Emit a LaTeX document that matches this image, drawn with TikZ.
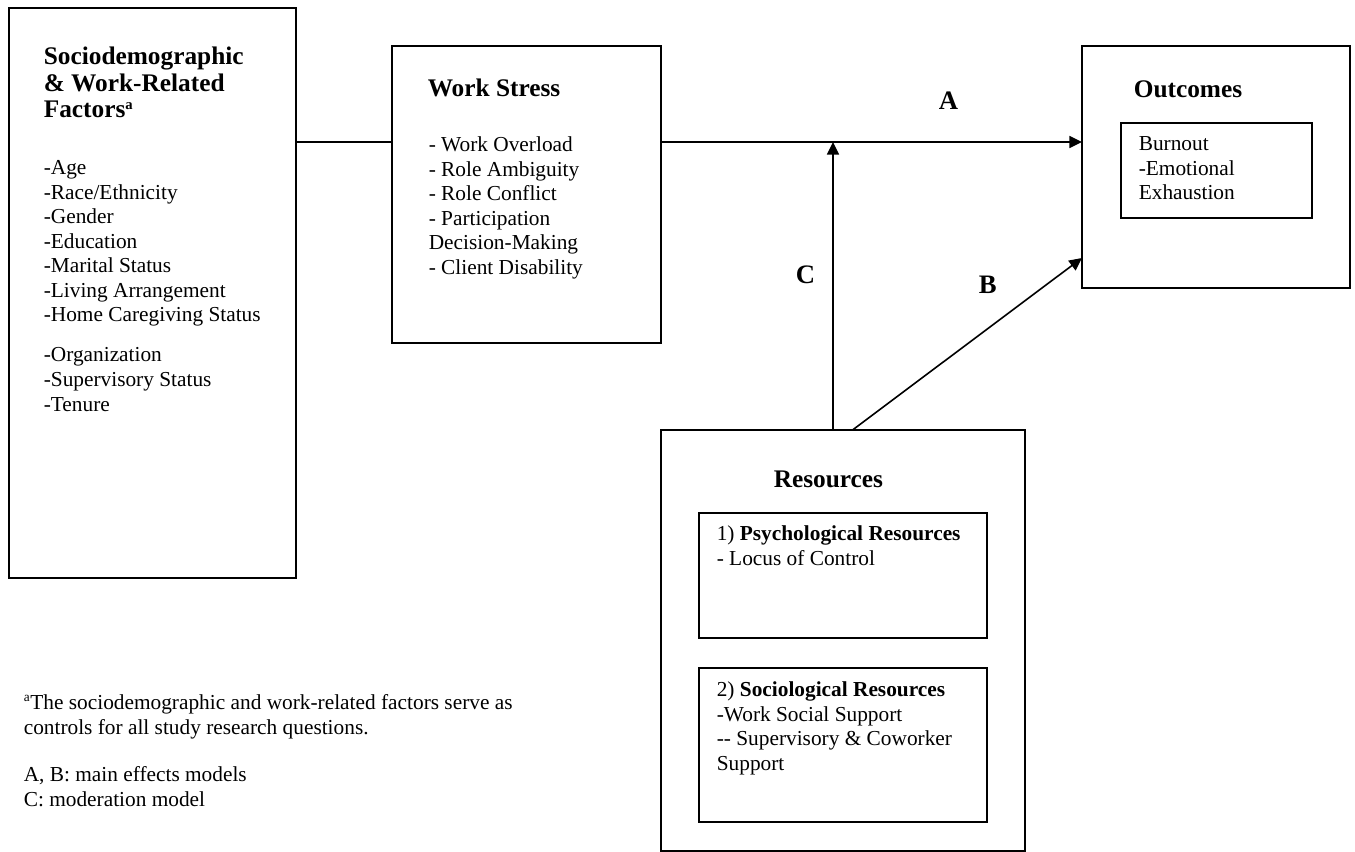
\documentclass[tikz,border=0pt]{standalone}
\usepackage{fontspec}
\setmainfont{Liberation Serif}
\usetikzlibrary{arrows.meta,positioning,calc}

\begin{document}
\begin{tikzpicture}[x=0.75pt, y=-0.75pt, line width=1.2pt,
  >={Triangle[length=9.5pt,width=9pt]},
  box/.style={draw, inner sep=0pt, outer sep=0pt},
  txt/.style={anchor=base west, align=left, inner sep=0pt, font=\fontsize{16}{18.4}\selectfont},
  ttl/.style={anchor=base west, align=left, inner sep=0pt, font=\fontsize{19}{20}\selectfont\bfseries},
  lbl/.style={anchor=base west, inner sep=0pt, font=\fontsize{20}{22}\selectfont\bfseries}]
  \useasboundingbox (0,0) rectangle (1355,852);
  % boxes
  \node[box, minimum width=215.25pt, minimum height=427.5pt] (soc) at (152.5,293) {};
  \node[box, minimum width=201.75pt, minimum height=222.75pt] (ws) at (526.5,194.5) {};
  \node[box, minimum width=201pt, minimum height=181.5pt] (out) at (1216,167) {};
  \node[box, minimum width=143.25pt, minimum height=71.25pt] (burn) at (1216.5,170.5) {};
  \node[box, minimum width=273pt, minimum height=315.75pt] (res) at (843,640.5) {};
  \node[box, minimum width=216pt, minimum height=93.75pt] (psy) at (843,575.5) {};
  \node[box, minimum width=216pt, minimum height=115.5pt] (sci) at (843,745) {};
  % texts (placed by the baseline of their last line)
  \node[ttl] (soctitle) at (43,118) {Sociodemographic\\\& Work-Related\\Factors\textsuperscript{\fontsize{11}{11}\selectfont a}};
  \node[txt] (soclist) at (43,411) {-Age\\-Race/Ethnicity\\-Gender\\-Education\\-Marital Status\\-Living Arrangement\\-Home Caregiving Status\\[11.6pt]-Organization\\-Supervisory Status\\-Tenure};
  \node[ttl] (wstitle) at (427,97) {Work Stress};
  \node[txt] (wslist) at (428,274.5) {- Work Overload\\- Role Ambiguity\\- Role Conflict\\- Participation\\Decision-Making\\- Client Disability};
  \node[ttl] (outtitle) at (1133,98) {Outcomes};
  \node[txt] (burnlist) at (1138,200) {Burnout\\-Emotional\\Exhaustion};
  \node[ttl] (restitle) at (773,487) {Resources};
  \node[txt] (psylist) at (716,565) {1) \textbf{Psychological Resources}\\- Locus of Control};
  \node[txt] (scilist) at (716,770.5) {2) \textbf{Sociological Resources}\\-Work Social Support\\-{}- Supervisory \& Coworker\\Support};
  \node[txt] (note) at (23,806) {\textsuperscript{\fontsize{10}{10}\selectfont a}The sociodemographic and work-related factors serve as\\controls for all study research questions.\\[17pt]A, B: main effects models\\C: moderation model};
  % connectors
  \coordinate (ya) at ($(ws.north east)+(0,96)$);
  \coordinate (cm) at (833,142);
  \draw (soc.east |- ya) -- (ws.west |- ya);
  \draw[->] (ya) -- (ya -| out.west);
  \draw[->] (res.north -| cm) -- (cm);
  \draw[->] ($(res.north west)+(191.5,0)$) -- ($(out.south west)+(0,-30)$);
  % path labels
  \node[lbl] (la) at (938,110) {A};
  \node[lbl] (lc) at (795,283) {C};
  \node[lbl] (lb) at (978,293) {B};
\end{tikzpicture}
\end{document}
